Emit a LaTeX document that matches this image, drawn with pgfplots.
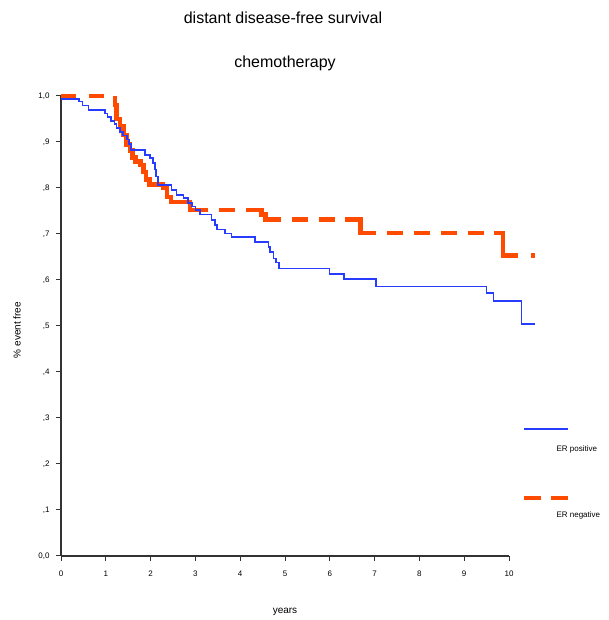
\documentclass[border=0pt]{standalone}
\usepackage{fontspec}
\setmainfont{Liberation Sans}
\usepackage{pgfplots}
\pgfplotsset{compat=1.18}
\definecolor{erpos}{RGB}{40,60,255}
\definecolor{erneg}{RGB}{255,75,0}
\begin{document}
\begin{tikzpicture}[x=1pt,y=1pt]
\path[use as bounding box] (-61,-64) rectangle (548,556);
\begin{axis}[
  at={(0,0)}, anchor=south west,
  scale only axis, width=448pt, height=460pt,
  xmin=0, xmax=10, ymin=0, ymax=1,
  axis lines=left, axis line style={-, line width=1.3pt, black!80},
  clip=false,
  xtick={0,1,...,10},
  xticklabels={0,1,2,3,4,5,6,7,8,9,10},
  ytick={0,0.1,...,1.0},
  yticklabels={{0,0},{,1},{,2},{,3},{,4},{,5},{,6},{,7},{,8},{,9},{1,0}},
  tick align=outside, major tick length=5pt,
  tick style={line width=1pt, black!80},
  tick label style={font=\fontsize{8}{9}\selectfont},
  xticklabel style={yshift=-6pt},
  yticklabel style={xshift=-3pt},
  neg/.style={const plot, color=erneg, line width=4.5pt, forget plot},
  negd/.style={neg, dash pattern=on 16pt off 11pt},
]
% ER negative (drawn in pieces so the dashes fall as in the original)
\addplot[negd, dash pattern=on 15pt off 13pt] coordinates {(0,1.0) (1.21,1.0)};
\addplot[neg] coordinates {
(1.21,1.0) (1.21,0.98) (1.24,0.95) (1.32,0.935) (1.39,0.915) (1.46,0.895)
(1.54,0.882) (1.60,0.866) (1.66,0.858) (1.78,0.850) (1.84,0.835) (1.90,0.818)
(1.97,0.808) (2.28,0.800) (2.37,0.780) (2.45,0.770) (2.88,0.752) (2.93,0.752)
};
\addplot[negd] coordinates {(2.93,0.752) (4.12,0.752)};
\addplot[neg] coordinates {(4.14,0.752) (4.48,0.742) (4.56,0.732) (4.90,0.732)};
\addplot[negd] coordinates {(5.15,0.732) (6.33,0.732)};
\addplot[neg] coordinates {(6.33,0.732) (6.68,0.702) (7.02,0.702)};
\addplot[negd] coordinates {(7.27,0.702) (9.45,0.702)};
\addplot[neg] coordinates {(9.66,0.702) (9.87,0.653) (10.20,0.653)};
\addplot[neg] coordinates {(10.50,0.653) (10.58,0.653)};
% ER positive
\addplot[const plot, color=erpos, line width=1.6pt] coordinates {
(0,0.993) (0.40,0.988) (0.48,0.979) (0.61,0.970) (0.98,0.962) (1.04,0.954)
(1.12,0.946) (1.19,0.939) (1.24,0.930) (1.32,0.922) (1.39,0.914) (1.47,0.905)
(1.52,0.895) (1.56,0.883) (1.88,0.872) (1.99,0.865) (2.06,0.854) (2.10,0.840)
(2.12,0.825) (2.17,0.807) (2.47,0.796) (2.58,0.785) (2.73,0.778) (2.84,0.768)
(2.92,0.760) (3.00,0.752) (3.10,0.742) (3.36,0.730) (3.44,0.720) (3.48,0.710)
(3.66,0.701) (3.81,0.693) (4.33,0.682) (4.63,0.672) (4.67,0.661) (4.74,0.647)
(4.80,0.638) (4.87,0.625) (5.99,0.613) (6.32,0.602) (7.03,0.586) (9.50,0.572)
(9.65,0.554) (10.28,0.504) (10.58,0.504)
};
\end{axis}
\node[font=\fontsize{16}{18}\selectfont] at (222,538) {distant disease-free survival};
\node[font=\fontsize{16}{18}\selectfont] at (224,493) {chemotherapy};
\node[font=\fontsize{10}{12}\selectfont] at (224,-56) {years};
\node[font=\fontsize{10}{12}\selectfont, rotate=90] at (-44,226) {\% event free};
\draw[erpos, line width=1.6pt] (463,127) -- (507,127);
\node[font=\fontsize{8}{9}\selectfont, anchor=west] at (492,107) {ER positive};
\draw[erneg, line width=4.5pt] (463,58) -- (480,58) (490,58) -- (507,58);
\node[font=\fontsize{8}{9}\selectfont, anchor=west] at (492,41) {ER negative};
\end{tikzpicture}
\end{document}
